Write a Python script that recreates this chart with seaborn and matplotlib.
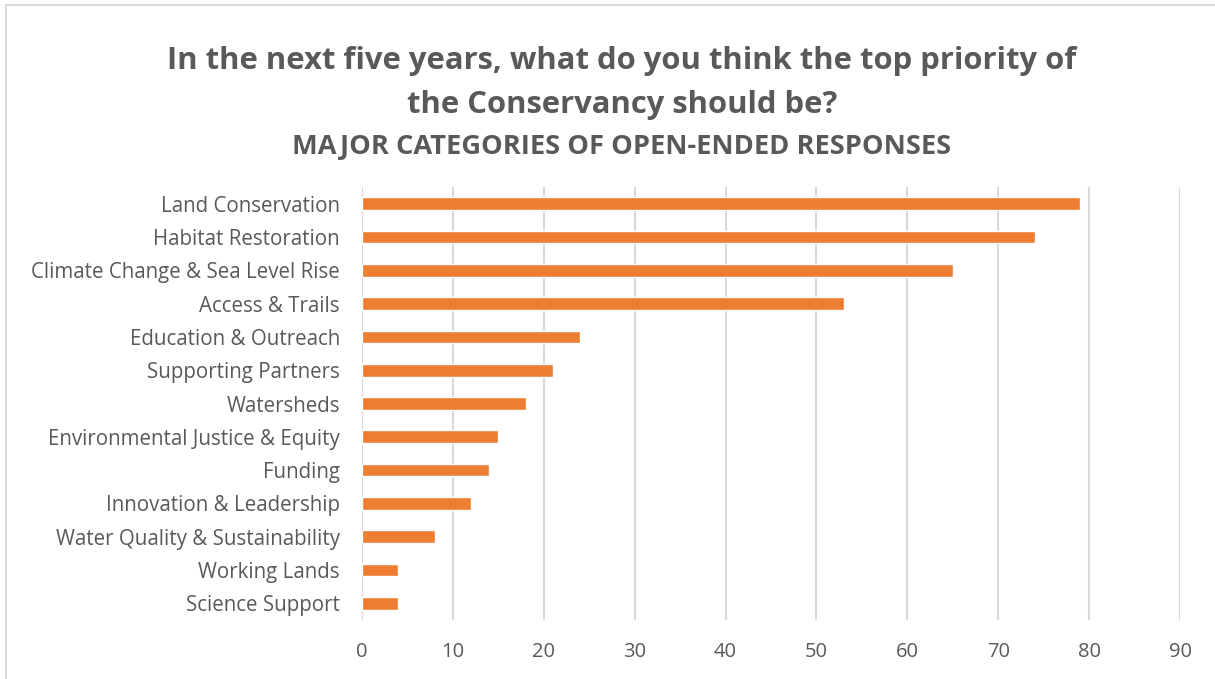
import matplotlib
matplotlib.use("Agg")
import matplotlib.pyplot as plt
from matplotlib.patches import Rectangle
import seaborn as sns
import pandas as pd

categories = [
    "Land Conservation",
    "Habitat Restoration",
    "Climate Change & Sea Level Rise",
    "Access & Trails",
    "Education & Outreach",
    "Supporting Partners",
    "Watersheds",
    "Environmental Justice & Equity",
    "Funding",
    "Innovation & Leadership",
    "Water Quality & Sustainability",
    "Working Lands",
    "Science Support",
]
responses = [79, 74, 65, 53, 24, 21, 18, 15, 14, 12, 8, 4, 4]
x_ticks = [0, 10, 20, 30, 40, 50, 60, 70, 80, 90]

df = pd.DataFrame({"category": categories, "responses": responses})

sns.set_theme(style="white")
plt.rcParams["font.family"] = ["Open Sans", "DejaVu Sans"]

TEXT = "#595959"
BAR = "#ED7D31"
GRID = "#D9D9D9"

fig = plt.figure(figsize=(12.15, 6.79), dpi=100)
ax = fig.add_axes([362 / 1215, 1 - 620 / 679, (1180 - 362) / 1215, (620 - 187) / 679])

sns.barplot(data=df, x="responses", y="category", color=BAR, saturation=1,
            width=0.38, ax=ax, zorder=3)

ax.set_xlim(0, 90)
ax.set_xticks(x_ticks)
ax.set_xticklabels([str(t) for t in x_ticks])
ax.set_xlabel("")
ax.set_ylabel("")
ax.grid(axis="x", color=GRID, linewidth=1.5, zorder=0)
ax.grid(axis="y", visible=False)
for s in ax.spines.values():
    s.set_visible(False)
ax.tick_params(axis="x", length=0, pad=16, labelsize=14.5, labelcolor=TEXT)
ax.tick_params(axis="y", length=0, pad=16, labelsize=14.8, labelcolor=TEXT)

cx = 622 / 1215
fig.text(cx, 1 - 61 / 679, "In the next five years, what do you think the top priority of",
         ha="center", va="center", fontsize=22.3, fontweight="bold", color=TEXT)
fig.text(cx, 1 - 105 / 679, "the Conservancy should be?",
         ha="center", va="center", fontsize=22.3, fontweight="bold", color=TEXT)
fig.text(cx, 1 - 147 / 679, "MAJOR CATEGORIES OF OPEN-ENDED RESPONSES",
         ha="center", va="center", fontsize=19.6, fontweight="bold", color=TEXT)

# chart-area frame
fig.patches.append(Rectangle((6 / 1215, -0.05), 1.1, 1 - 5 / 679 + 0.05,
                             transform=fig.transFigure, fill=False,
                             edgecolor=GRID, linewidth=1.5))

fig.savefig("out.png", dpi=100)
